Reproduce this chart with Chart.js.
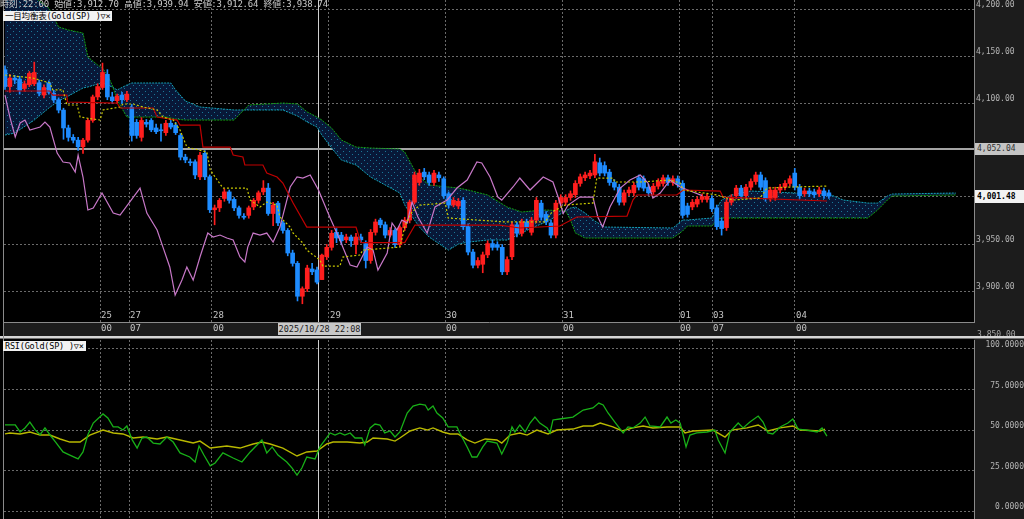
<!DOCTYPE html>
<html lang="ja">
<head>
<meta charset="utf-8">
<title>一目均衡表 Gold(SP)</title>
<script src="https://cdn.jsdelivr.net/npm/chart.js@4.4.1/dist/chart.umd.min.js"></script>
<style>
  html, body { margin: 0; padding: 0; background: #000; }
  body { position: relative; width: 1024px; height: 519px; overflow: hidden;
         font-family: "DejaVu Sans Mono", "Noto Sans CJK JP", monospace; }
  .abs { position: absolute; }
  #axis-bg { left: 974px; top: 0; width: 50px; height: 519px; background: #1c1c1c; }
  #band { left: 4px; top: 323px; width: 970px; height: 13px; background: #1c1c1c; }
  #sep1 { left: 0; top: 336px; width: 1024px; height: 2px; background: #d6d6d6; }
  #sep2 { left: 0; top: 338px; width: 1024px; height: 1px; background: #707070; }
  #left-line { left: 3px; top: 0; width: 1px; height: 519px; background: #8a8a8a; }
  #main { left: 0; top: 0; }
  #rsi { left: 0; top: 340px; }
  .header { left: 0; top: 0; font-size: 9px; line-height: 9px; color: #c8c8c8; white-space: pre; letter-spacing: -0.2px; }
  .legend { background: #f2f2f2; color: #000; font-size: 8.5px; line-height: 10px; padding: 0 2px; white-space: pre; letter-spacing: -0.2px; }
  .crossbox { left: 278px; top: 323px; width: 83px; height: 12px; background: #c8c8c8; color: #202020;
              font-size: 8.5px; line-height: 12px; text-align: center; white-space: nowrap; overflow: hidden; }
  .mark { left: 975px; width: 49px; font-size: 8px; text-align: left; padding-left: 2px; box-sizing: border-box; }
  .mark1 { top: 143px; height: 12px; line-height: 12px; background: #c4c4c4; color: #303030; }
  .mark2 { top: 190px; height: 13px; line-height: 13px; background: #f2f2f2; color: #000; font-weight: bold; }
  .cut { left: 977px; top: 330px; height: 6px; overflow: hidden; font-size: 8px; line-height: 9px; color: #a8a8a8; }
</style>
</head>
<body>
<div class="abs" id="axis-bg"></div>
<div class="abs" id="band"></div>
<canvas class="abs" id="main" width="1024" height="336"></canvas>
<canvas class="abs" id="rsi" width="1024" height="179"></canvas>
<div class="abs" id="sep1"></div>
<div class="abs" id="sep2"></div>
<div class="abs" id="left-line"></div>
<div class="abs header">時刻:22:00 始値:3,912.70 高値:3,939.94 安値:3,912.64 終値:3,938.74</div>
<div class="abs legend" style="left:3px;top:11px;">一目均衡表(Gold(SP) )▽×</div>
<div class="abs legend" style="left:3px;top:341px;">RSI(Gold(SP) )▽×</div>
<div class="abs crossbox">2025/10/28 22:08</div>
<div class="abs mark mark1">4,052.04</div>
<div class="abs mark mark2">4,001.48</div>
<div class="abs cut">3,850.00</div>

<script>
// 1時間足, 10/24 04:00 〜 11/04 07:00 (x は足の番号)
const opens = [
  4136,4118,4127,4126,4116,4120,4121,4122,4109,4122, 4111,4104,4093,4074,4064,4061,4054,4061,4082,4107,
  4117,4131,4107,4103,4109,4104,4096,4080,4064,4080, 4082,4074,4072,4069,4079,4077,4066,4043,4038,4038,
  4022,4047,4022,3987,3989,3999,4006,3998,3989,3980, 3981,3990,3997,4006,4010,3983,3994,3973,3965,3941,
  3930,3895,3903,3924,3923,3912.70,3937,3947,3963,3960, 3955,3958,3950,3958,3951,3933,3963,3976,3971,3960,
  3965,3950,3968,3976,3995,4016,4027,4024,4016,4024, 4020,4004,3992,3991,3997,3969,3942,3928,3929,3939,
  3951,3950,3947,3921,3937,3971,3962,3974,3963,3976, 3994,3982,3973,3960,3994,3995,4000,4003,4015,4021,
  4023,4024,4037,4034,4027,4016,4011,3995,4005,4005, 4021,4020,4011,4006,4012,4015,4021,4016,4020,4015,
  3991,3990,3993,3998,3998,3999,3989,3975,3968,3995, 4002,4010,4002,4011,4017,4024,4018,3999,4000,4008,
  4011,4015,4026,4011,4004,4007,4006,4004,4007,4005
];
const highs = [
  4140,4131,4130,4129,4124,4134,4144,4125,4120,4124, 4114,4106,4095,4077,4067,4064,4063,4084,4109,4121,
  4143,4136,4112,4110,4112,4113,4099,4083,4085,4083, 4084,4078,4078,4082,4082,4080,4068,4046,4041,4040,
  4048,4050,4024,3992,3999,4009,4008,4000,3991,3983, 3991,3999,4007,4018,4015,3995,3996,3975,3967,3944,
  3932,3905,3928,3930,3926,3939.94,3950,3965,3967,3963, 3961,3960,3962,3961,3954,3966,3977,3978,3974,3968,
  3967,3970,3979,3997,4027,4030,4031,4027,4029,4027, 4022,4006,4000,3999,4000,3972,3945,3936,3942,3954,
  3955,3953,3950,3937,3974,3974,3977,3977,3979,4000, 3997,3985,3976,3997,4003,4003,4007,4018,4025,4027,
  4029,4046,4042,4038,4030,4019,4014,4008,4011,4016, 4024,4023,4014,4015,4020,4024,4024,4023,4023,4018,
  3994,3998,4001,4004,4004,4002,3992,3978,3998,4003, 4013,4013,4014,4020,4027,4027,4021,4011,4011,4014,
  4018,4023,4031,4014,4010,4010,4009,4011,4010,4008
];
const lows = [
  4115,4112,4121,4110,4113,4118,4119,4108,4106,4110, 4101,4090,4062,4060,4058,4050,4047,4059,4080,4104,
  4115,4104,4100,4101,4100,4102,4060,4063,4060,4075, 4070,4068,4060,4066,4073,4067,4040,4037,4034,4020,
  4019,4019,3984,3971,3985,3996,3994,3986,3978,3977, 3978,3987,3994,4003,3981,3970,3970,3962,3938,3927,
  3890,3887,3900,3918,3908,3912.64,3934,3944,3952,3950, 3952,3948,3940,3952,3925,3930,3960,3968,3957,3958,
  3947,3948,3965,3973,3993,4013,4019,4013,4013,4017, 3999,3989,3990,3988,3966,3939,3925,3925,3920,3936,
  3944,3944,3918,3918,3934,3958,3959,3966,3960,3973, 3976,3971,3957,3957,3991,3992,3997,4000,4012,4018,
  4020,4021,4023,4023,4013,4008,3992,3992,4002,4002, 4008,4007,4002,4003,4009,4012,4013,4013,4011,3978,
  3979,3987,3990,3995,3995,3985,3966,3960,3965,3992, 3999,3999,3999,4008,4014,4008,3996,3996,3997,4005,
  4008,4012,4008,3999,4001,4001,4000,4001,3999,3999
];
const closes = [
  4118,4127,4125,4114,4121,4132,4133,4111,4117,4112, 4104,4093,4074,4064,4061,4054,4061,4082,4107,4118,
  4133,4107,4103,4108,4104,4110,4066,4066,4082,4078, 4072,4070,4071,4079,4075,4069,4043,4040,4037,4024,
  4045,4022,3987,3989,3997,4006,3997,3989,3981,3979, 3989,3997,4005,4010,3983,3992,3973,3965,3941,3930,
  3895,3903,3925,3921,3910,3938.74,3947,3962,3957,3954, 3958,3954,3958,3955,3933,3963,3974,3971,3960,3965,
  3950,3968,3976,3995,4024,4026,4022,4016,4026,4021, 4002,3992,3997,3996,3969,3942,3928,3933,3939,3951,
  3947,3947,3921,3934,3971,3962,3974,3969,3976,3997, 3979,3974,3960,3994,4000,4000,4004,4015,4022,4024,
  4026,4038,4026,4026,4016,4011,3995,4005,4008,4013, 4011,4010,4005,4012,4017,4021,4016,4020,4014,3981,
  3982,3995,3998,4001,4001,3988,3969,3967,3995,4000, 4010,4002,4011,4017,4024,4011,3999,4008,4008,4011,
  4015,4020,4011,4002,4007,4004,4003,4008,4002,4001.48
];

// 転換線 / 基準線
const tenkanX = [0,5.7,9.2,9.8,11.9,12.7,14.8,15.4,19.5,20.1,23.6,24.2,26.3,28.3,31.2,32.4,34.5,35.9,37.3,41.4,
  42.1,44.7,49.6,50.3,52.3,53.7,55.8,56.4,58.5,59.1,61.1,61.9,64.6,65.2,68.7,69.3,72.8,73.4,81,82.1,
  83.5,85.1,90.3,90.9,102.6,110.8,112.2,114.9,120.6,121.4,124.7,125.1,130.3,136.4,138.5,139.1,146.1,149.3,154.9,156.3,
  161.6,168.6];
const tenkanY = [4130.3,4127.1,4121.8,4114.4,4114.4,4098.4,4098.4,4085.6,4082.4,4093.1,4096.3,4099.5,4099.5,4096.3,4093.1,4085.6,4082.4,4071.8,4053.7,4048.4,
  4029.3,4010.1,4010.1,3997.3,3989.9,3995.2,3992,3979.3,3968.6,3962.2,3951.6,3944.1,3933.5,3927.1,3927.1,3936.7,3938.8,3944.1,3947.3,3970.7,
  3984.6,3992,3994.1,3978.2,3974,3974,3984.6,3992,3994.1,4020.7,4020.7,4016.5,4016.5,4018.6,4015.4,4008,4002.7,3997.3,3999.5,4010.1,
  4011.2,4012.2];
const kijunX = [0,9.2,9.8,12.7,12.8,23,23.6,30.4,31.2,35.3,35.9,40,40.6,46.2,46.8,48.8,49.2,52.9,53.7,55.8,
  57,59.1,61.9,72,73,82,84.1,101.5,105.6,113.8,117.3,127.6,128.8,129.6,137.8,139.1,146.7,147.3,168.6];
const kijunY = [4113.3,4113.3,4109,4109,4101.6,4100.5,4095.2,4095.2,4085.6,4082.4,4077.1,4077.1,4053.7,4053.7,4045.2,4043.1,4034.6,4034.6,4026.1,4021.8,
  4015.4,3994.1,3968.6,3968.6,3952,3952,3970.7,3970.7,3967.6,3969.7,3979.3,3980.3,3997.3,4002.7,4002.7,4008,4006.9,4000.5,3996.3];

// 先行スパン (雲) は26本先まで
const cloudX = [0,2,6,9,11,13,16,17,19,20,21,22,23,25,26,33,34,35,37,40,47,50,57,60,62,64,65,67,69,72,
  75,81,82,84,85,87,91,93,95,99,103,106,108,111,115,116,117,119,121,123,137,139,140,145,146,147,149,153,162,169,
  172,177,179,181,182,195];
const spanA = [4066.5,4068.6,4082.4,4095.2,4102.7,4108,4116.5,4117.6,4120.7,4121.8,4119.7,4117.6,4114.4,4119.7,4121.8,4121.8,4121.8,4114.4,4102.7,4096.3,
  4093.1,4093.1,4093.1,4086.7,4080.3,4075,4066.5,4052.7,4039.9,4034.6,4021.8,4004.8,3992,3976.1,3968.6,3958,3944.1,3950.5,3952.6,3954.8,
  3954.8,3962.2,3967.6,3974,3985.6,3988.8,3989.9,3983.5,3975,3968.6,3967.6,3976.1,3976.1,3978.2,3988.8,3997.3,4002.7,4006.9,4004.8,4003.7,
  3997.3,3994.1,3994.1,4001.6,4003.7,4004.8];
const spanB = [4226.1,4220.7,4213.3,4201.6,4181.4,4178.2,4175,4149.5,4141,4137.8,4130.3,4119.7,4103.7,4085.6,4085.6,4085.6,4084.6,4083.5,4082.4,4082.4,
  4082.4,4098.4,4100.5,4099.5,4091,4085.6,4082.4,4073.9,4061.2,4053.7,4052.7,4051.6,4048.4,4029.3,4021.8,4013.3,4011.2,4010.1,4008,4002.7,
  3989.9,3984.6,3985.6,3986.7,3985.6,3976.1,3962.2,3956.9,3956.9,3956.9,3956.9,3964.4,3969.7,3969.7,3976.1,3978.2,3978.2,3978.2,3978.2,3978.2,
  3978.2,3978.2,3986.7,3997.3,4001.6,4002.7];

// 遅行スパン (26本前に表示)
const chikouX = [0,1,2.1,3.1,4.1,5.1,7.2,8.2,9.2,10.7,11.9,13.3,14.4,15,16,17,18.1,19.9,22.2,23.6,
  27.7,29.1,31.2,32.4,33.8,34.9,36.3,37.3,38.6,40,41.6,42.7,44.1,45.5,46.8,48.2,49.2,49.8,50.9,52.3,
  53.7,55,56.4,58.5,59.9,61.1,62.6,64.3,66.7,68.7,70.8,72.2,74.3,75.5,76.5,78.4,79.4,80.4,81.4,82.5,
  83.5,84.7,86.6,88.2,90.7,92.7,94.8,96.8,97.8,99.5,101.1,101.9,104.2,105.6,107.7,110.4,112.4,113.5,114.5,115.5,
  117.9,120.6,121.6,122.6,124.1,126.2,128.2,130.3,131.9,132.9,134.4,136.4,138.5,141.1,143];
const chikouY = [4109,4085.6,4064.4,4079.3,4082.4,4071.8,4075,4080.3,4075,4047.3,4037.8,4036.7,4027.1,4045.2,4021.8,3986.7,3988.8,4004.8,3983.5,3981.4,
  4010.1,3983.5,3965.4,3947.3,3926.1,3896.3,3912.2,3926.1,3912.2,3936.7,3962.2,3958,3960.1,3956.9,3954.8,3936.7,3931.4,3947.3,3962.2,3960.1,
  3962.2,3952.7,3968.6,4011.2,4021.8,4020.7,4023.9,4008,3978.2,3954.8,3928.2,3926.1,3947.3,3944.1,3922.9,3941,3972.9,3965.4,3976.1,3972.9,
  3995.2,3979.3,3962.2,3989.9,3997.3,4010.1,4018.6,4037.8,4036.7,4021.8,4000.5,3997.3,4011.2,4020.7,4008,4021.8,4016.5,4000,3983,3992,
  4000.5,4000.5,3979.3,3968.6,3989.9,4010.1,4018.6,4023.9,4015.4,3999.5,4004.8,4018.6,4011.2,4005.9,4002];

// RSI と そのシグナル
const rsiX = [0,2.1,3.1,4.1,5.1,6.2,7.2,8.2,9.2,10.3,11.9,13.3,15,16,17,18.1,20.1,21.1,22.2,23.2,
  24.2,25,26.1,27.1,28.1,29.1,30.4,31.8,33.2,34.5,35.9,37.9,39,39.8,40.8,42.1,43.1,44.7,46.8,48.6,
  50.3,52.7,53.7,54.8,56,57.8,58.9,59.9,60.9,61.9,63.6,64.6,66.7,67.7,68.7,69.7,70.8,71.8,73.2,73.8,
  74.9,75.9,76.9,77.9,79,80,81,82.5,83.7,85.1,86.2,86.8,87.8,88.6,89.8,90.9,92.7,93.3,94.8,95.8,
  96.8,98,98.9,100.9,101.9,103,104,104.6,105.6,106.7,107.7,108.7,109.7,111.2,111.8,112.4,113.8,116.5,118.6,120.6,
  121.8,122.7,123.7,125.1,126.8,127.8,128.8,130.3,131.3,132.3,134.4,135.8,136.6,137.6,138.5,139.7,140.5,141.9,144,145.6,
  146.3,147.7,148.7,150.4,151.4,152.8,154.5,155.5,156.5,157.5,159,160.6,161.6,162.7,164.5,166.6,167.6,168.6];
const rsiY = [53.3,53.3,48.9,51.4,55.0,50.2,47.2,51.4,47.2,42.9,36.6,34.7,32.3,36.6,47.2,54.4,60.0,57.5,52.0,52.0,
  50.1,52.6,44.0,39.0,45.2,45.8,42.1,41.5,45.8,42.7,36.0,33.5,30.4,40.3,34.7,28.0,29.8,36.0,32.9,30.4,
  36.6,44.0,36.0,39.7,34.7,30.4,26.7,22.4,26.7,33.5,32.3,39.7,48.3,47.0,48.3,47.0,48.3,45.2,45.2,40.9,
  51.4,53.8,53.2,48.3,49.5,45.8,48.9,60.6,64.9,66.1,65.5,62.4,64.9,60.6,57.5,52.0,52.0,48.3,39.7,33.5,
  33.5,39.7,43.3,42.1,35.3,42.1,52.0,48.9,53.2,48.9,54.4,58.1,54.4,51.4,48.3,56.3,56.9,58.1,62.4,63.7,
  66.7,65.5,60.6,55.0,48.3,52.0,51.4,54.4,58.1,52.6,52.0,58.1,54.4,56.3,54.4,39.7,47.0,48.3,48.9,50.1,
  44.0,36.0,48.9,54.4,51.4,55.0,58.7,55.0,48.3,47.7,52.0,54.4,56.9,50.7,50.1,48.9,51.4,46.4];
const sigX = [0,1,3.1,5.1,7.2,9.2,11.3,13.3,15.4,17.4,20.1,22.2,24.2,26.3,28.3,31.2,33.2,35.9,38.6,40,
  42.1,45.5,48.2,50.9,52.7,54.4,57,59.9,61.9,64,66,67.3,70.2,72.8,74.3,75.5,78.4,80,81,83.1,
  85.1,86.6,87.8,89.8,91.3,92.9,94.8,96.4,98.5,100.9,101.9,103.6,105.6,107.1,109.1,111.4,113.2,116.5,118.6,120.6,
  122.1,124.7,126.6,128.8,130.9,132.9,135.8,138.5,139.5,141.1,145.2,147.7,149.1,152.2,154.5,156.5,159,161.6,163.1,167.2,
  168.2];
const sigY = [47.7,48.3,47.7,48.9,47.0,47.0,44.6,42.7,42.7,47.0,50.1,48.3,47.7,45.2,45.8,44.6,45.8,44.0,42.1,43.3,
  39.0,40.3,39.0,41.5,42.7,41.5,39.0,34.1,36.6,37.2,41.5,42.7,42.7,42.1,42.7,45.2,44.6,43.3,45.2,49.5,
  51.4,50.1,51.4,48.9,47.7,47.7,44.0,42.1,44.6,44.0,42.1,47.0,48.3,47.0,50.1,47.7,50.1,50.7,52.6,52.6,
  54.4,52.0,49.5,51.4,52.6,51.4,52.0,52.0,48.3,49.5,50.1,45.8,50.1,51.4,53.2,49.5,51.4,52.6,50.1,49.5,
  50.7];

// 時間軸の目盛 (日 / 時)
const dayTicks = [19.5, 25.44, 42.46, 66.46, 90.26, 114.26, 138.26, 145.03, 162.05];
const dayLabels = ['25', '27', '28', '29', '30', '31', '01', '03', '04'];
const hourLabels = ['00', '07', '00', '00', '00', '00', '00', '07', '00'];
const crossAt = 64.4;
const priceTicks = [3900, 3950, 4001.48, 4052.04, 4100, 4150, 4200];
const priceMarks = [4001.48, 4052.04];
const rsiTicks = [0, 25, 50, 75, 100];

const UP = '#ff1e1e';
const DOWN = '#1e8cff';
const GRID = '#6a6a6a';
const X_MIN = -0.205;
const X_MAX = 198.77;
const MONO = '"DejaVu Sans Mono", monospace';

const pts = (xs, ys) => xs.map((x, i) => ({ x, y: ys[i] }));
const candleColor = (ctx) => (closes[ctx.dataIndex] >= opens[ctx.dataIndex] ? UP : DOWN);
const fmtPrice = (v) => v.toLocaleString('en-US', { minimumFractionDigits: 2, maximumFractionDigits: 2 });

function cloudPattern() {
  const c = document.createElement('canvas');
  c.width = 6; c.height = 6;
  const g = c.getContext('2d');
  g.fillStyle = '#081838';
  g.fillRect(0, 0, 6, 6);
  g.fillStyle = '#1a7898';
  g.fillRect(1, 1, 1, 1);
  g.fillRect(4, 4, 1, 1);
  return g.createPattern(c, 'repeat');
}

// グリッドは破線、十字線と水平線だけ実線
// 目盛ラベルは mirror にして軸の枠で切られないようにする (日付は足の上、時刻は帯の中)
function xGrid(withLabels) {
  return {
    type: 'linear', min: X_MIN, max: X_MAX, offset: false,
    afterBuildTicks: (s) => { s.ticks = dayTicks.concat([crossAt]).map((v) => ({ value: v })); },
    afterFit: (s) => { s.height = withLabels ? 14 : 0; s.paddingLeft = 0; s.paddingRight = 0; },
    grid: {
      offset: false, drawTicks: false,
      color: (c) => (c.tick && c.tick.value === crossAt ? '#d0d0d0' : GRID),
    },
    border: {
      display: withLabels, color: '#8a8a8a',
      dash: (c) => (c.tick && c.tick.value === crossAt ? [] : [2, 2]),
    },
    ticks: {
      display: withLabels, autoSkip: false, maxRotation: 0, align: 'start', mirror: true,
      padding: 0, labelOffset: 1, color: '#c4c4c4',
      font: { family: MONO, size: 9, lineHeight: 1.45 },
      callback: (v, i) => (i < dayLabels.length ? [dayLabels[i], hourLabels[i]] : ''),
    },
  };
}

function yAxis(min, max, ticks, opts) {
  return {
    position: 'right', min, max,
    afterBuildTicks: (s) => { s.ticks = ticks.map((v) => ({ value: v })); },
    afterFit: (s) => { s.width = 50; s.paddingTop = 0; s.paddingBottom = 0; },
    grid: {
      drawTicks: false,
      color: (c) => (c.tick && c.tick.value === 4052.04 ? '#a4a4a4' : GRID),
      lineWidth: (c) => (c.tick && c.tick.value === 4052.04 ? 2 : 1),
    },
    border: {
      display: true, color: '#8a8a8a',
      dash: (c) => (c.tick && c.tick.value === 4052.04 ? [] : [2, 2]),
    },
    ticks: Object.assign({
      color: '#b4b4b4', labelOffset: -4.5,
      font: { family: MONO, size: 8 },
    }, opts),
  };
}

function renderMain() {
  new Chart(document.getElementById('main'), {
    type: 'bar',
    data: {
      datasets: [
        {
          type: 'line', label: '先行スパン1', data: pts(cloudX, spanA),
          borderColor: '#14a2b8', borderWidth: 1, borderDash: [2, 1], pointRadius: 0,
          fill: '+1', backgroundColor: cloudPattern(), order: 10,
        },
        {
          type: 'line', label: '先行スパン2', data: pts(cloudX, spanB),
          borderColor: '#12a012', borderWidth: 1, borderDash: [2, 1], pointRadius: 0,
          fill: false, order: 9,
        },
        {
          label: 'ヒゲ', data: lows.map((l, i) => ({ x: i, y: [l, highs[i]] })),
          backgroundColor: candleColor, barThickness: 1, grouped: false, order: 6,
        },
        {
          label: '実体', data: opens.map((o, i) => ({ x: i, y: [o, closes[i]] })),
          backgroundColor: candleColor, barThickness: 4, minBarLength: 1, grouped: false, order: 5,
        },
        {
          type: 'line', label: '遅行スパン', data: pts(chikouX, chikouY),
          borderColor: '#c878c8', borderWidth: 1.2, pointRadius: 0, order: 3,
        },
        {
          type: 'line', label: '基準線', data: pts(kijunX, kijunY),
          borderColor: '#c00000', borderWidth: 1.2, pointRadius: 0, order: 2,
        },
        {
          type: 'line', label: '転換線', data: pts(tenkanX, tenkanY),
          borderColor: '#c8c800', borderWidth: 1.2, borderDash: [2, 2], pointRadius: 0, order: 1,
        },
      ],
    },
    options: {
      responsive: false, animation: false, devicePixelRatio: 1, events: [],
      layout: { autoPadding: false, padding: { left: 4, top: 0, right: 0, bottom: 0 } },
      plugins: { legend: { display: false }, tooltip: { enabled: false } },
      scales: {
        x: xGrid(true),
        y: yAxis(3867.6, 4210.1, priceTicks, {
          padding: 2,
          callback: (v) => (priceMarks.includes(v) ? '' : fmtPrice(v)),
        }),
      },
    },
  });
}

function renderRsi() {
  new Chart(document.getElementById('rsi'), {
    type: 'line',
    data: {
      datasets: [
        { label: 'RSI', data: pts(rsiX, rsiY), borderColor: '#18b018', borderWidth: 1.3, pointRadius: 0 },
        { label: 'シグナル', data: pts(sigX, sigY), borderColor: '#b8b800', borderWidth: 1.4, pointRadius: 0 },
      ],
    },
    options: {
      responsive: false, animation: false, devicePixelRatio: 1, events: [],
      layout: { autoPadding: false, padding: { left: 4, top: 0, right: 0, bottom: 0 } },
      plugins: { legend: { display: false }, tooltip: { enabled: false } },
      scales: {
        x: xGrid(false),
        y: yAxis(-4.68, 105.54, rsiTicks, {
          padding: 8, crossAlign: 'far', labelOffset: -4,
          callback: (v) => v.toFixed(4),
        }),
      },
    },
  });
}

renderMain();
renderRsi();
</script>
</body>
</html>
